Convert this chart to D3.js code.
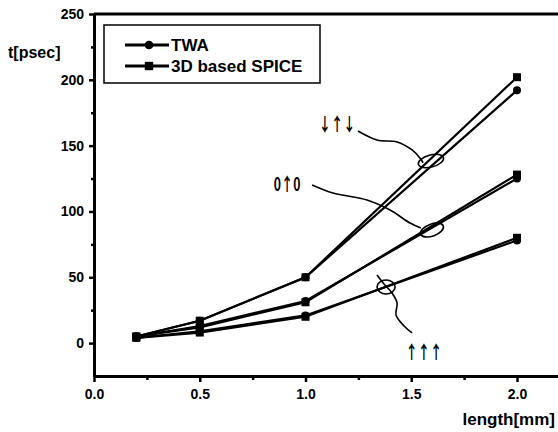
<!DOCTYPE html>
<html><head><meta charset="utf-8">
<script src="https://cdn.jsdelivr.net/npm/d3@7"></script>
<style>body{margin:0;background:#fff}svg{display:block}</style>
</head><body><svg id="c" width="558" height="432"></svg>
<script>
// ---- data ----
const lengths = [0.2, 0.5, 1.0, 2.0];
const twaDUD   = [5, 17, 50, 192];
const spiceDUD = [5, 17, 50, 202];
const twaZUZ   = [5, 13, 32, 125];
const spiceZUZ = [5, 12, 31, 128];
const twaUUU   = [4, 9, 21, 78];
const spiceUUU = [4, 8, 20, 80];
const xTicks = [0.0, 0.5, 1.0, 1.5, 2.0];
const xMinor = [0.25, 0.75, 1.25, 1.75];
const yTicks = [0, 50, 100, 150, 200, 250];
const yMinor = [25, 75, 125, 175, 225];
const legendNames = ["TWA", "3D based SPICE"];
const patternLabels = ["\u2193\u2191\u2193", "0\u21910", "\u2191\u2191\u2191"];
// annotation label anchors and leader curves (data units)
const labelPos = [[1.149, 167], [0.913, 121.5], [1.560, -6]];
const leaderDUD = [[1.248,161.1],[1.338,154.3],[1.433,152.8],[1.504,146.7],[1.541,140.6],[1.556,137]];
const leaderZUZ = [[1.031,120.1],[1.130,114.0],[1.291,108.7],[1.400,101.1],[1.494,91.2],[1.546,87.4]];
const leaderUUU = [[1.338,51.7],[1.371,44.9],[1.409,38.1],[1.433,30.5],[1.428,21.3],[1.466,13.0],[1.504,7.7]];
const ringPos = [[1.593,138.3],[1.598,85.9],[1.381,42.6]];

const svg = d3.select("#c");
const x = d3.scaleLinear().domain([0, 2.2]).range([94, 559.3]);
const y = d3.scaleLinear().domain([-25, 250]).range([376, 14]);
const font = "'Liberation Sans', Arial, sans-serif";

// frame top line
svg.append("line").attr("x1", x(0)).attr("x2", x(2.2)).attr("y1", y(250)).attr("y2", y(250))
  .attr("stroke", "#000").attr("stroke-width", 3);

// axes
const gx = svg.append("g").attr("transform", `translate(0,${y(-25)})`)
  .call(d3.axisBottom(x).tickValues(xTicks).tickFormat(d3.format(".1f")).tickSize(6).tickSizeOuter(0).tickPadding(7));
const gxm = svg.append("g").attr("transform", `translate(0,${y(-25)})`)
  .call(d3.axisBottom(x).tickValues(xMinor).tickFormat("").tickSize(4).tickSizeOuter(0));
const gy = svg.append("g").attr("transform", `translate(${x(0)},0)`)
  .call(d3.axisLeft(y).tickValues(yTicks).tickFormat(d3.format("d")).tickSize(5).tickSizeOuter(0).tickPadding(5));
const gym = svg.append("g").attr("transform", `translate(${x(0)},0)`)
  .call(d3.axisLeft(y).tickValues(yMinor).tickFormat("").tickSize(3).tickSizeOuter(0));
[gx, gxm, gy, gym].forEach(g => {
  g.select(".domain").attr("stroke", "#000").attr("stroke-width", 3);
  g.selectAll(".tick line").attr("stroke", "#000").attr("stroke-width", 2.5);
  g.selectAll("text").attr("fill", "#000").style("font-family", font)
    .style("font-size", "14px").style("font-weight", "bold");
});

// axis titles
svg.append("text").attr("x", 8).attr("y", 58).text("t[psec]")
  .style("font-family", font).style("font-size", "16px").style("font-weight", "bold");
svg.append("text").attr("x", 555).attr("y", 425).attr("text-anchor", "end").text("length[mm]")
  .style("font-family", font).style("font-size", "17px").style("font-weight", "bold");

// series
const series = [
  {v: twaDUD, m: "circle"}, {v: spiceDUD, m: "square"},
  {v: twaZUZ, m: "circle"}, {v: spiceZUZ, m: "square"},
  {v: twaUUU, m: "circle"}, {v: spiceUUU, m: "square"}
];
const line = d3.line().x(d => x(d[0])).y(d => y(d[1]));
series.forEach(s => {
  const pts = lengths.map((l, i) => [l, s.v[i]]);
  svg.append("path").attr("d", line(pts)).attr("fill", "none")
    .attr("stroke", "#000").attr("stroke-width", 2.2);
});
series.forEach(s => {
  const pts = lengths.map((l, i) => [l, s.v[i]]);
  const sym = d3.symbol().type(s.m === "circle" ? d3.symbolCircle : d3.symbolSquare)
    .size(s.m === "circle" ? 50 : 64);
  svg.append("g").selectAll("path").data(pts).join("path")
    .attr("transform", d => `translate(${x(d[0])},${y(d[1])})`)
    .attr("d", sym).attr("fill", "#000");
});

// annotations
const curve = d3.line().x(d => x(d[0])).y(d => y(d[1])).curve(d3.curveCatmullRom);
[leaderDUD, leaderZUZ, leaderUUU].forEach(pts => {
  svg.append("path").attr("d", curve(pts)).attr("fill", "none")
    .attr("stroke", "#000").attr("stroke-width", 1.6);
});
const ringSize = [[13, 6, -15], [12, 6, -20], [9, 7, 0]];
ringPos.forEach((p, i) => {
  svg.append("ellipse").attr("cx", 0).attr("cy", 0)
    .attr("rx", ringSize[i][0]).attr("ry", ringSize[i][1])
    .attr("transform", `translate(${x(p[0])},${y(p[1])}) rotate(${ringSize[i][2]})`)
    .attr("fill", "none").attr("stroke", "#000").attr("stroke-width", 1.6);
});
patternLabels.forEach((t, i) => {
  svg.append("text").attr("x", 0).attr("y", 0)
    .attr("transform", `translate(${x(labelPos[i][0])},${y(labelPos[i][1])}) scale(0.68,1)`)
    .attr("text-anchor", "middle").attr("dominant-baseline", "central").text(t)
    .attr("fill", "#000")
    .style("font-family", "'Noto Sans CJK JP', 'Noto Sans CJK SC', sans-serif")
    .style("font-size", "18px").style("font-weight", "bold");
});

// legend
const lg = svg.append("g");
lg.append("rect").attr("x", 104).attr("y", 25).attr("width", 216).attr("height", 58)
  .attr("fill", "#fff").attr("stroke", "#000").attr("stroke-width", 1.5);
legendNames.forEach((n, i) => {
  const yy = 45 + i * 21;
  lg.append("line").attr("x1", 125).attr("x2", 169).attr("y1", yy).attr("y2", yy)
    .attr("stroke", "#000").attr("stroke-width", 3);
  lg.append("path").attr("transform", `translate(149,${yy})`)
    .attr("d", d3.symbol().type(i === 0 ? d3.symbolCircle : d3.symbolSquare).size(i === 0 ? 60 : 70))
    .attr("fill", "#000");
  lg.append("text").attr("x", 171).attr("y", yy + 6).text(n)
    .style("font-family", font).style("font-size", "17px").style("font-weight", "bold");
});
</script></body></html>
